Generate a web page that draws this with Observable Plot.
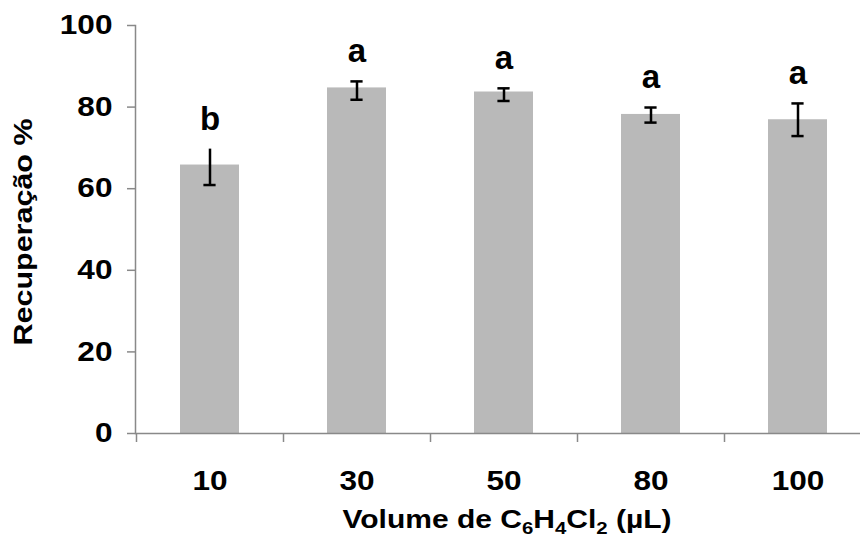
<!DOCTYPE html>
<html><head><meta charset="utf-8">
<script src="https://cdn.jsdelivr.net/npm/d3@7"></script>
<script src="https://cdn.jsdelivr.net/npm/@observablehq/plot@0.6"></script>
<style>body{margin:0;background:#fff}</style>
</head><body><div id="chart"></div>
<script>
const categories = ["10", "30", "50", "80", "100"];
const recovery = [65.8, 84.7, 83.7, 78.2, 76.9];
const errLow = [60.9, 81.8, 81.5, 76.2, 72.9];
const errHigh = [69.7, 86.3, 84.6, 79.9, 80.9];
const letters = ["b", "a", "a", "a", "a"];
const yTicks = [0, 20, 40, 60, 80, 100];

const data = categories.map((c, i) => ({cat: c, value: recovery[i], low: errLow[i], high: errHigh[i], letter: letters[i], i}));
const axisColor = "#898989";
const font = "'Liberation Sans', Arial, sans-serif";

const xTitle = () => {
  const t = d3.create("svg:text")
    .attr("transform", "translate(507,528) scale(1.2,1)")
    .attr("text-anchor", "middle")
    .attr("font-family", font).attr("font-weight", "bold").attr("font-size", 25)
    .attr("fill", "#000");
  const parts = [["Volume de C", 0], ["6", 1], ["H", 0], ["4", 1], ["Cl", 0], ["2", 1], [" (µL)", 0]];
  let sub = false;
  for (const [s, isSub] of parts) {
    const ts = t.append("tspan").text(s);
    if (isSub) ts.attr("font-size", 17);
    if (isSub && !sub) { ts.attr("dy", 6); sub = true; }
    else if (!isSub && sub) { ts.attr("dy", -6); sub = false; }
  }
  return t.node();
};

const yTitle = () => d3.create("svg:text")
  .attr("transform", "translate(32,232) rotate(-90) scale(1.22,1)")
  .attr("text-anchor", "middle")
  .attr("font-family", font).attr("font-weight", "bold").attr("font-size", 25)
  .attr("fill", "#000")
  .text("Recuperação %").node();

const chart = Plot.plot({
  width: 860,
  height: 538,
  marginLeft: 135,
  marginRight: 0,
  marginTop: 25,
  marginBottom: 105,
  style: {fontFamily: font, background: "#fff"},
  x: {domain: categories, range: [135.5, 870.5], paddingInner: 0.6, paddingOuter: 0.3},
  y: {domain: [0, 100], range: [433, 25]},
  marks: [
    Plot.barY(data, {x: "cat", y: "value", fill: "#b9b9b9"}),
    Plot.ruleX(data, {x: "cat", y1: "low", y2: "high", stroke: "#000", strokeWidth: 2.5}),
    Plot.tickY(data, {x: "cat", y: "low", stroke: "#000", strokeWidth: 2.5, insetLeft: 23.4, insetRight: 23.4}),
    Plot.tickY(data, {filter: d => d.i > 0, x: "cat", y: "high", stroke: "#000", strokeWidth: 2.5, insetLeft: 23.4, insetRight: 23.4}),
    Plot.text(data, {x: "cat", y: "high", text: "letter", dy: -30, lineAnchor: "middle", fontSize: 33, fontWeight: "bold", fill: "#000"}),
    Plot.ruleY([0], {stroke: axisColor, strokeWidth: 1.5}),
    Plot.frame({anchor: "left", stroke: axisColor, strokeWidth: 1.5}),
    Plot.axisY({ticks: yTicks, tickSize: 8, tickPadding: 15, stroke: axisColor, strokeWidth: 1.5, label: null,
      fontSize: 27, fontWeight: "bold", fill: "#000", tickFormat: d => String(d)}),
    Plot.axisX({tickSize: 9, dx: -73.5, tickFormat: null, stroke: axisColor, strokeWidth: 1.5, label: null}),
    Plot.axisX({tickSize: 0, tickPadding: 37, label: null, fontSize: 27, fontWeight: "bold", fill: "#000"}),
    xTitle,
    yTitle
  ]
});
// widen tick label glyphs horizontally, as in the reference
d3.select(chart).selectAll('g[aria-label="y-axis tick label"] text, g[aria-label="x-axis tick label"] text')
  .each(function () {
    const tr = this.getAttribute("transform") || "";
    this.setAttribute("transform", tr + " scale(1.17,1)");
  });
document.getElementById("chart").appendChild(chart);
</script>
</body></html>
